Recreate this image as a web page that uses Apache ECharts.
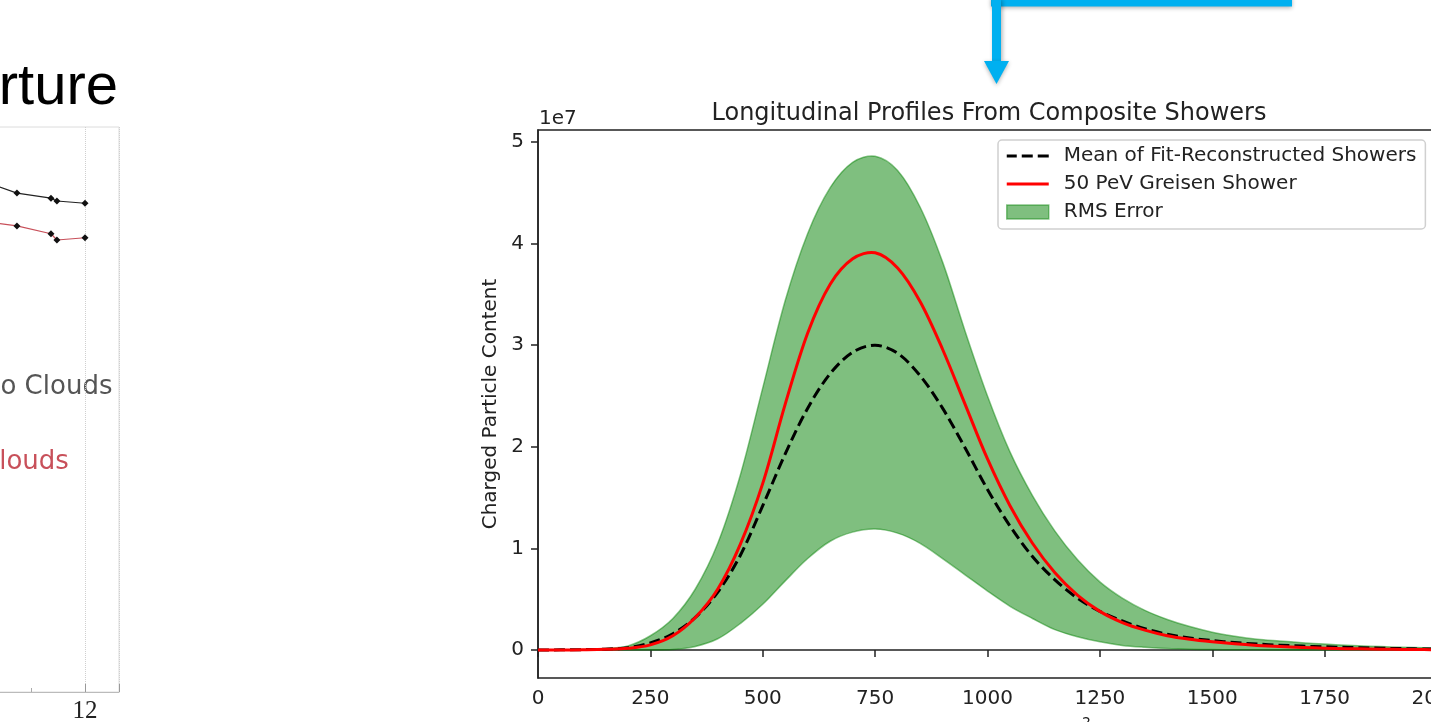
<!DOCTYPE html>
<html>
<head>
<meta charset="utf-8">
<style>
  html, body { margin: 0; padding: 0; background: #fff; }
  #main { width: 1431px; height: 722px; }
</style>
<script src="https://cdn.jsdelivr.net/npm/echarts@6/dist/echarts.min.js"></script>
</head>
<body>
<div id="main"></div>
<script type="text/javascript">
    // depth grid (g/cm2) and profiles, in units of 1e7 particles
    var depth = ['0', '50', '100', '150', '200', '250', '300', '350', '400', '450', '500', '550', '600', '650', '700', '750',
        '800', '850', '900', '950', '1000', '1050', '1100', '1150', '1200', '1250', '1300', '1350', '1400', '1450', '1500',
        '1550', '1600', '1650', '1700', '1750', '1800', '1850', '1900', '1950', '2000'];
    var meanShower = [0, 0.001, 0.003, 0.008, 0.022, 0.07, 0.16, 0.32, 0.57, 0.93, 1.42, 1.93, 2.38, 2.72, 2.93, 3.0,
        2.92, 2.7, 2.38, 1.99, 1.58, 1.22, 0.92, 0.69, 0.51, 0.38, 0.285, 0.21, 0.155, 0.117, 0.092,
        0.073, 0.058, 0.047, 0.038, 0.031, 0.025, 0.02, 0.015, 0.011, 0.008];
    var greisen = [0, 0, 0.002, 0.006, 0.016, 0.05, 0.14, 0.32, 0.6, 1.04, 1.64, 2.42, 3.12, 3.6, 3.85, 3.91,
        3.76, 3.43, 2.96, 2.42, 1.88, 1.42, 1.05, 0.76, 0.54, 0.38, 0.27, 0.195, 0.14, 0.105, 0.08,
        0.06, 0.045, 0.034, 0.025, 0.018, 0.013, 0.009, 0.006, 0.004, 0.003];
    var rmsUpper = [0, 0.001, 0.004, 0.015, 0.04, 0.14, 0.31, 0.6, 1.05, 1.72, 2.58, 3.44, 4.1, 4.55, 4.8, 4.86,
        4.72, 4.36, 3.82, 3.14, 2.5, 1.95, 1.52, 1.17, 0.89, 0.67, 0.51, 0.39, 0.3, 0.23, 0.175,
        0.135, 0.105, 0.088, 0.072, 0.058, 0.046, 0.037, 0.03, 0.024, 0.019];
    var rmsLower = [0, 0, 0, 0, 0, 0, 0.005, 0.035, 0.11, 0.26, 0.45, 0.68, 0.9, 1.07, 1.16, 1.19,
        1.15, 1.05, 0.9, 0.74, 0.58, 0.43, 0.31, 0.2, 0.13, 0.08, 0.045, 0.027, 0.015, 0.008, 0.004,
        0.002, 0.001, 0, 0, 0, 0, 0, 0, 0, 0];
    var yTicks = [0, 1, 2, 3, 4, 5];

    // cut-off aperture panel on the left of the slide
    var apertureX = [10.0, 10.74, 11.37, 11.48, 12.0];
    var noClouds = [90.8, 88.3, 87.4, 86.9, 86.5];
    var withClouds = [83.4, 82.5, 81.1, 80.0, 80.4];

    var FONT = 'DejaVu Sans';
    var SMOOTH = 0.33;   // cardinal spline through the read points
    var chart = echarts.init(document.getElementById('main'));

    function pairs(xs, ys) {
        return xs.map(function (x, i) { return [x, ys[i]]; });
    }

    // legend handles (bbox padded to itemWidth x itemHeight with tiny corner specks)
    var PAD = 'M0,0h0.05v0.05h-0.05z M41.95,13.95h0.05v0.05h-0.05z ';
    var solidIcon = 'path://' + PAD + 'M0,5.5h42v3h-42z';
    var dashIcon = 'path://' + PAD + 'M0,5.5h10v3h-10z M15,5.5h11v3h-11z M31,5.5h11v3h-11z';

    // one smooth curve per series, placed through the axes with api.coord
    function curve(name, values, style) {
        return {
            name: name, type: 'custom', xAxisIndex: 0, yAxisIndex: 0, silent: true,
            itemStyle: { color: style.stroke },
            data: values.map(function (v, i) { return [i, v]; }),
            renderItem: function (params, api) {
                if (params.dataIndex !== 0) return null;
                var pts = values.map(function (v, i) { return api.coord([i, v]); });
                return { type: 'polyline', shape: { points: pts, smooth: SMOOTH }, style: style };
            }
        };
    }

    var bandSeries = {
        name: 'RMS Error', type: 'custom', xAxisIndex: 0, yAxisIndex: 0, silent: true,
        itemStyle: { color: 'rgba(0,128,0,0.5)' },
        data: rmsUpper.map(function (v, i) { return [i, v, rmsLower[i]]; }),
        renderItem: function (params, api) {
            if (params.dataIndex !== 0) return null;
            var top = rmsUpper.map(function (v, i) { return api.coord([i, v]); });
            var bottom = rmsLower.map(function (v, i) { return api.coord([i, v]); }).reverse();
            return {
                type: 'group',
                children: [
                    { type: 'polygon', shape: { points: top.concat(bottom), smooth: SMOOTH },
                      style: { fill: 'rgba(0,128,0,0.5)', stroke: null } },
                    { type: 'polyline', shape: { points: top, smooth: SMOOTH },
                      style: { fill: null, stroke: 'rgba(0,128,0,0.45)', lineWidth: 1.5 } },
                    { type: 'polyline', shape: { points: bottom, smooth: SMOOTH },
                      style: { fill: null, stroke: 'rgba(0,128,0,0.45)', lineWidth: 1.5 } }
                ]
            };
        }
    };

    var option = {
        backgroundColor: '#fff',
        animation: false,
        title: {
            text: 'Longitudinal Profiles From Composite Showers',
            left: 984,
            top: 97,
            textAlign: 'center',
            textStyle: { fontFamily: FONT, fontSize: 24, fontWeight: 'normal', color: '#222' }
        },
        legend: {
            orient: 'vertical',
            left: 998,
            top: 140,
            padding: [6, 9, 7, 8],
            itemWidth: 42,
            itemHeight: 14,
            itemGap: 8,
            selectedMode: false,
            backgroundColor: 'rgba(255,255,255,0.8)',
            borderColor: '#d0d0d0',
            borderWidth: 1.5,
            borderRadius: 4,
            textStyle: { fontFamily: FONT, fontSize: 20, color: '#222', lineHeight: 20, padding: [0, 0, 0, 10] },
            data: [
                { name: 'Mean of Fit-Reconstructed Showers', icon: dashIcon },
                { name: '50 PeV Greisen Shower', icon: solidIcon },
                { name: 'RMS Error', icon: 'rect',
                  itemStyle: { color: 'rgba(0,128,0,0.5)', borderColor: 'rgba(0,128,0,0.45)', borderWidth: 1.5 } }
            ]
        },
        grid: [
            { left: 538, top: 130, width: 899, height: 548, show: true, borderColor: '#222', borderWidth: 1.5,
              outerBoundsMode: 'none' },
            { left: -23, top: 127, width: 142, height: 565, show: true, borderColor: '#dcdcdc', borderWidth: 1,
              outerBoundsMode: 'none' }
        ],
        xAxis: [
            {
                gridIndex: 0, type: 'category', data: depth, boundaryGap: false,
                name: 'Shower Depth (g/cm{sup|2})',
                nameLocation: 'middle',
                nameGap: 38,
                nameTextStyle: { fontFamily: FONT, fontSize: 20, color: '#222', lineHeight: 50,
                    rich: { sup: { fontFamily: FONT, fontSize: 14, lineHeight: 14, verticalAlign: 'top', color: '#222' } } },
                axisLine: { lineStyle: { color: '#222', width: 1.5 } },
                axisTick: { length: 7, interval: 4, lineStyle: { color: '#222', width: 1.5 } },
                axisLabel: { fontFamily: FONT, fontSize: 20, color: '#222', margin: 11, interval: 4 },
                splitLine: { show: false }
            },
            {
                gridIndex: 1, type: 'value', min: 10, max: 12.63, interval: 2,
                axisLine: { lineStyle: { color: '#bbb', width: 1 } },
                axisTick: { length: 8, inside: true, lineStyle: { color: '#999' } },
                minorTick: { show: true, splitNumber: 2, length: 4, lineStyle: { color: '#aaa' } },
                axisLabel: { fontFamily: 'Liberation Serif', fontSize: 25, color: '#222', margin: 7,
                    formatter: function (v) { return String(v); } },
                splitLine: { show: true, lineStyle: { color: '#cfcfcf', type: 'dotted' } }
            }
        ],
        yAxis: [
            {
                gridIndex: 0, type: 'value', min: -0.276, max: 5.118,
                name: 'Charged Particle Content',
                nameLocation: 'middle',
                nameGap: 37,
                nameTextStyle: { fontFamily: FONT, fontSize: 20, color: '#222' },
                axisLine: { show: true, lineStyle: { color: '#222', width: 1.5 } },
                axisTick: { show: true, length: 7, customValues: yTicks, lineStyle: { color: '#222', width: 1.5 } },
                axisLabel: { fontFamily: FONT, fontSize: 20, color: '#222', margin: 14, customValues: yTicks,
                    formatter: function (v) { return String(v); } },
                splitLine: { show: false }
            },
            {
                gridIndex: 1, type: 'value', min: 0, max: 100,
                axisLine: { show: false },
                axisTick: { show: false },
                axisLabel: { show: false },
                splitLine: { show: false }
            }
        ],
        graphic: [
            // exponent of the y axis
            { type: 'text', left: 539, top: 109,
              style: { text: '1e7', fontFamily: FONT, fontSize: 20, fill: '#222' } },
            // slide title fragment and legend labels of the cut-off panel
            { type: 'text', x: 118, y: 88,
              style: { text: 'Aperture', fontFamily: 'Liberation Sans', fontSize: 58, fill: '#000',
                       align: 'right', verticalAlign: 'middle' } },
            { type: 'text', x: -19, y: 387,
              style: { text: 'No Clouds', fontFamily: FONT, fontSize: 26, fill: '#555', align: 'left', verticalAlign: 'middle' } },
            { type: 'text', x: -19, y: 462,
              style: { text: 'Clouds', fontFamily: FONT, fontSize: 26, fill: '#c8505a', align: 'left', verticalAlign: 'middle' } },
            // blue callout arrow
            { type: 'rect', shape: { x: 991, y: -4, width: 301, height: 10.5 },
              style: { fill: '#00B0F0', shadowBlur: 4, shadowColor: 'rgba(0,0,0,0.3)', shadowOffsetY: 1.5 } },
            { type: 'rect', shape: { x: 992, y: 0, width: 9, height: 62 },
              style: { fill: '#00B0F0', shadowBlur: 4, shadowColor: 'rgba(0,0,0,0.3)', shadowOffsetX: 1.5 } },
            { type: 'polygon', shape: { points: [[984, 61], [1009, 61], [996.5, 84]] },
              style: { fill: '#00B0F0', shadowBlur: 4, shadowColor: 'rgba(0,0,0,0.3)', shadowOffsetY: 1.5 } }
        ],
        series: [
            bandSeries,
            curve('Mean of Fit-Reconstructed Showers', meanShower,
                  { fill: null, stroke: '#000', lineWidth: 3, lineDash: [11, 5] }),
            curve('50 PeV Greisen Shower', greisen,
                  { fill: null, stroke: '#ff0000', lineWidth: 3 }),
            {
                name: 'No Clouds', type: 'line', xAxisIndex: 1, yAxisIndex: 1,
                symbol: 'diamond', symbolSize: 7, silent: true,
                itemStyle: { color: '#111' },
                lineStyle: { color: '#222', width: 1.2 },
                data: pairs(apertureX, noClouds)
            },
            {
                name: 'Clouds', type: 'line', xAxisIndex: 1, yAxisIndex: 1,
                symbol: 'diamond', symbolSize: 7, silent: true,
                itemStyle: { color: '#111' },
                lineStyle: { color: '#c8505a', width: 1.2 },
                data: pairs(apertureX, withClouds)
            }
        ]
    };
    chart.setOption(option);
</script>
</body>
</html>
